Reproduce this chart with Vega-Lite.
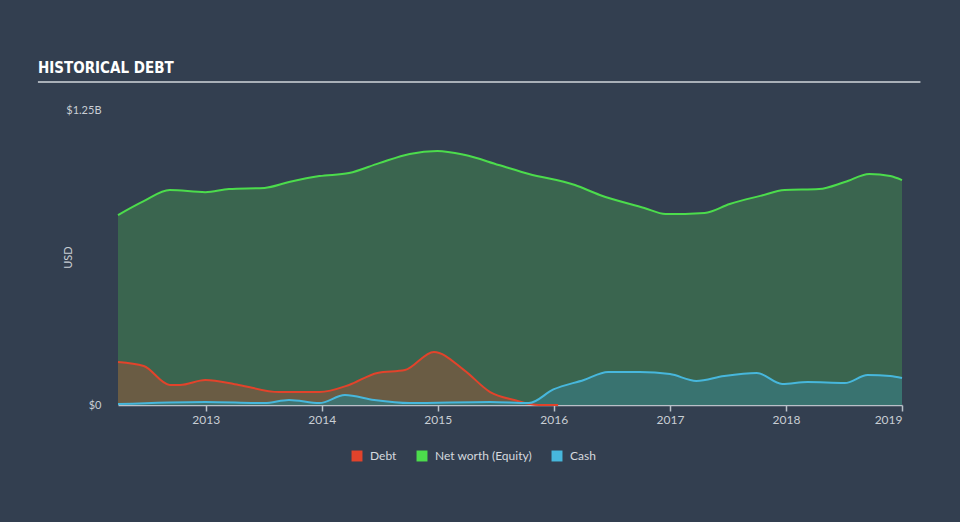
{
  "$schema": "https://vega.github.io/schema/vega-lite/v6.json",
  "width": 784,
  "height": 295,
  "autosize": {"type": "none"},
  "padding": {"left": 118, "top": 110, "right": 58, "bottom": 117},
  "background": "#333f50",
  "config": {
    "view": {"stroke": null},
    "font": "Lato"
  },
  "title": {
    "text": "HISTORICAL DEBT",
    "anchor": "start",
    "frame": "group",
    "dx": -80,
    "dy": 22,
    "offset": 15,
    "baseline": "alphabetic",
    "font": "DejaVu Sans Condensed, Roboto Condensed, Liberation Sans, sans-serif",
    "fontSize": 15,
    "fontWeight": "bold",
    "color": "#ffffff"
  },
  "datasets": {
    "main": [
      {"date": "2012-03-31", "series": "Net worth (Equity)", "value": 805000000},
      {"date": "2012-06-20", "series": "Net worth (Equity)", "value": 864000000},
      {"date": "2012-09-10", "series": "Net worth (Equity)", "value": 911000000},
      {"date": "2012-12-31", "series": "Net worth (Equity)", "value": 902000000},
      {"date": "2013-03-15", "series": "Net worth (Equity)", "value": 915000000},
      {"date": "2013-07-05", "series": "Net worth (Equity)", "value": 920000000},
      {"date": "2013-09-20", "series": "Net worth (Equity)", "value": 945000000},
      {"date": "2013-12-25", "series": "Net worth (Equity)", "value": 970000000},
      {"date": "2014-03-28", "series": "Net worth (Equity)", "value": 983000000},
      {"date": "2014-07-01", "series": "Net worth (Equity)", "value": 1025000000},
      {"date": "2014-10-05", "series": "Net worth (Equity)", "value": 1064000000},
      {"date": "2014-12-31", "series": "Net worth (Equity)", "value": 1076000000},
      {"date": "2015-03-25", "series": "Net worth (Equity)", "value": 1060000000},
      {"date": "2015-07-12", "series": "Net worth (Equity)", "value": 1017000000},
      {"date": "2015-10-15", "series": "Net worth (Equity)", "value": 979000000},
      {"date": "2016-03-08", "series": "Net worth (Equity)", "value": 932000000},
      {"date": "2016-05-25", "series": "Net worth (Equity)", "value": 890000000},
      {"date": "2016-10-12", "series": "Net worth (Equity)", "value": 835000000},
      {"date": "2016-12-18", "series": "Net worth (Equity)", "value": 809000000},
      {"date": "2017-04-20", "series": "Net worth (Equity)", "value": 814000000},
      {"date": "2017-07-08", "series": "Net worth (Equity)", "value": 852000000},
      {"date": "2017-10-12", "series": "Net worth (Equity)", "value": 886000000},
      {"date": "2017-12-28", "series": "Net worth (Equity)", "value": 911000000},
      {"date": "2018-04-15", "series": "Net worth (Equity)", "value": 915000000},
      {"date": "2018-07-05", "series": "Net worth (Equity)", "value": 945000000},
      {"date": "2018-09-20", "series": "Net worth (Equity)", "value": 979000000},
      {"date": "2018-11-25", "series": "Net worth (Equity)", "value": 970000000},
      {"date": "2019-01-01", "series": "Net worth (Equity)", "value": 953000000},

      {"date": "2012-03-31", "series": "Debt", "value": 182000000},
      {"date": "2012-06-20", "series": "Debt", "value": 165000000},
      {"date": "2012-09-10", "series": "Debt", "value": 85000000},
      {"date": "2012-10-12", "series": "Debt", "value": 85000000},
      {"date": "2012-12-31", "series": "Debt", "value": 106000000},
      {"date": "2013-04-15", "series": "Debt", "value": 85000000},
      {"date": "2013-08-20", "series": "Debt", "value": 55000000},
      {"date": "2013-12-25", "series": "Debt", "value": 55000000},
      {"date": "2014-03-28", "series": "Debt", "value": 85000000},
      {"date": "2014-06-25", "series": "Debt", "value": 136000000},
      {"date": "2014-09-20", "series": "Debt", "value": 148000000},
      {"date": "2014-12-20", "series": "Debt", "value": 225000000},
      {"date": "2015-03-25", "series": "Debt", "value": 148000000},
      {"date": "2015-06-15", "series": "Debt", "value": 55000000},
      {"date": "2015-08-30", "series": "Debt", "value": 21000000},
      {"date": "2015-11-15", "series": "Debt", "value": 0},
      {"date": "2016-01-15", "series": "Debt", "value": 0},

      {"date": "2012-03-31", "series": "Cash", "value": 4000000},
      {"date": "2012-12-31", "series": "Cash", "value": 13000000},
      {"date": "2013-07-05", "series": "Cash", "value": 8000000},
      {"date": "2013-09-20", "series": "Cash", "value": 21000000},
      {"date": "2013-12-25", "series": "Cash", "value": 8000000},
      {"date": "2014-03-15", "series": "Cash", "value": 42000000},
      {"date": "2014-06-15", "series": "Cash", "value": 21000000},
      {"date": "2014-10-05", "series": "Cash", "value": 8000000},
      {"date": "2015-06-15", "series": "Cash", "value": 13000000},
      {"date": "2015-10-15", "series": "Cash", "value": 8000000},
      {"date": "2015-12-31", "series": "Cash", "value": 66000000},
      {"date": "2016-04-05", "series": "Cash", "value": 106000000},
      {"date": "2016-06-20", "series": "Cash", "value": 140000000},
      {"date": "2016-09-28", "series": "Cash", "value": 140000000},
      {"date": "2017-01-01", "series": "Cash", "value": 131000000},
      {"date": "2017-03-25", "series": "Cash", "value": 102000000},
      {"date": "2017-06-20", "series": "Cash", "value": 123000000},
      {"date": "2017-10-01", "series": "Cash", "value": 136000000},
      {"date": "2017-12-20", "series": "Cash", "value": 89000000},
      {"date": "2018-03-10", "series": "Cash", "value": 97000000},
      {"date": "2018-07-05", "series": "Cash", "value": 93000000},
      {"date": "2018-09-15", "series": "Cash", "value": 127000000},
      {"date": "2018-11-25", "series": "Cash", "value": 123000000},
      {"date": "2019-01-01", "series": "Cash", "value": 114000000}
    ],
    "bands": [
      {"lo": 0, "hi": 250000000},
      {"lo": 500000000, "hi": 750000000},
      {"lo": 1000000000, "hi": 1250000000}
    ],
    "underline": [
      {"from": "2011-07-23", "to": "2019-02-28", "level": 1368600000}
    ]
  },
  "data": {"name": "main"},
  "encoding": {
    "x": {
      "field": "date",
      "type": "temporal",
      "scale": {
        "domain": [1333152000000, 1546300800000]
      },
      "axis": {
        "title": null,
        "format": "%Y",
        "tickCount": {"interval": "year", "step": 1},
        "grid": false,
        "domainColor": "#b9c0c8",
        "domainWidth": 1.5,
        "tickColor": "#b9c0c8",
        "tickSize": 6,
        "tickWidth": 1.5,
        "labelColor": "#c9ced4",
        "labelFontSize": 12,
        "labelFont": "Lato",
        "labelPadding": 3
      }
    },
    "y": {
      "field": "value",
      "type": "quantitative",
      "scale": {"domain": [0, 1250000000], "nice": false},
      "axis": {
        "title": "USD",
        "titleColor": "#c9ced4",
        "titleFont": "Lato",
        "titleFontSize": 11,
        "titleFontWeight": "normal",
        "titleX": -50,
        "titleY": 147,
        "titleAngle": -90,
        "titleAlign": "center",
        "titleBaseline": "middle",
        "values": [0, 1250000000],
        "labelExpr": "datum.value == 0 ? '$0' : '$1.25B'",
        "labelColor": "#c9ced4",
        "labelFontSize": 11,
        "labelFont": "Lato",
        "labelPadding": 17,
        "domain": false,
        "ticks": false,
        "grid": false
      }
    }
  },
  "layer": [
    {
      "data": {"name": "bands"},
      "mark": {"type": "rect", "color": "#000000", "opacity": 0.08},
      "encoding": {
        "y": {"field": "lo", "type": "quantitative"},
        "y2": {"field": "hi"}
      }
    },
    {
      "data": {"name": "underline"},
      "mark": {"type": "rule", "color": "#a9b0b8", "strokeWidth": 2, "clip": false},
      "encoding": {
        "x": {"field": "from", "type": "temporal"},
        "x2": {"field": "to"},
        "y": {"field": "level", "type": "quantitative"}
      }
    },
    {
      "transform": [{"filter": "datum.series == 'Net worth (Equity)'"}],
      "mark": {"type": "area", "interpolate": "monotone", "color": "#3c6f4f", "opacity": 0.78}
    },
    {
      "transform": [{"filter": "datum.series == 'Debt'"}],
      "mark": {"type": "area", "interpolate": "monotone", "color": "#d9482c", "opacity": 0.3}
    },
    {
      "transform": [{"filter": "datum.series == 'Cash'"}],
      "mark": {"type": "area", "interpolate": "monotone", "color": "#3a7576", "opacity": 0.85}
    },
    {
      "mark": {"type": "line", "interpolate": "monotone", "strokeWidth": 2},
      "encoding": {
        "color": {
          "field": "series",
          "type": "nominal",
          "scale": {
            "domain": ["Debt", "Net worth (Equity)", "Cash"],
            "range": ["#e2432b", "#4cdc4c", "#47b7dc"]
          },
          "legend": {
            "title": null,
            "orient": "none",
            "legendX": 233,
            "legendY": 340,
            "direction": "horizontal",
            "symbolType": "square",
            "symbolSize": 120,
            "symbolStrokeWidth": 0,
            "labelFont": "Lato",
            "labelFontSize": 12,
            "labelColor": "#d5d9de",
            "labelOffset": 7,
            "columnPadding": 19,
            "encode": {
              "symbols": {
                "update": {
                  "fill": {"scale": "color", "field": "value"},
                  "stroke": {"value": "transparent"}
                }
              }
            }
          }
        }
      }
    }
  ]
}
